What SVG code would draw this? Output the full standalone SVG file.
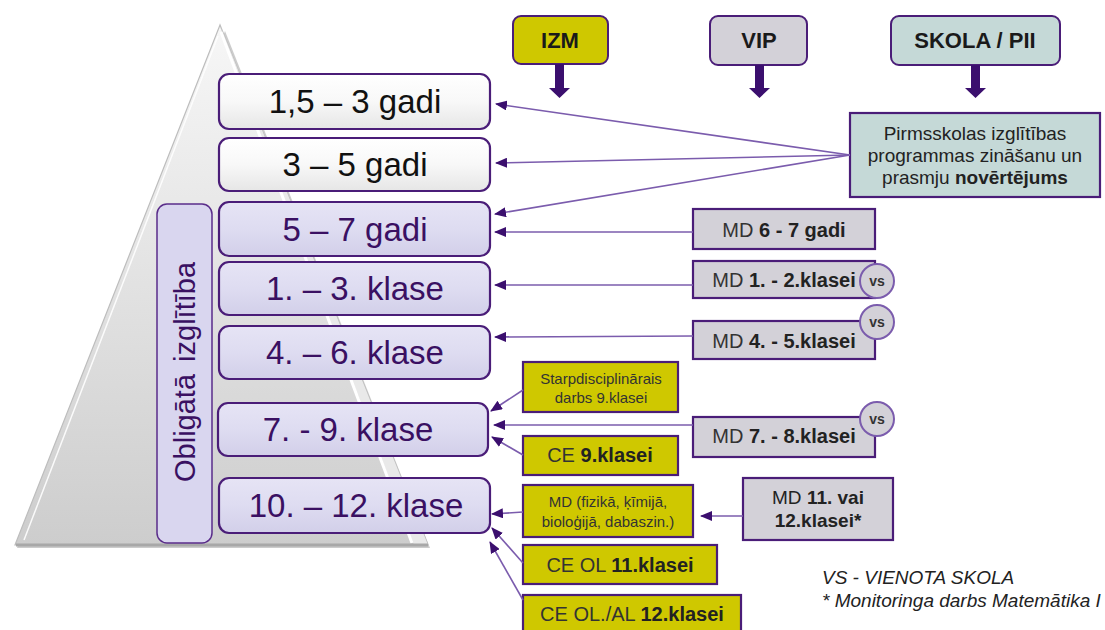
<svg xmlns="http://www.w3.org/2000/svg" width="1105" height="630" viewBox="0 0 1105 630">
  <defs>
    <linearGradient id="pyr" x1="0" y1="0" x2="0" y2="1">
      <stop offset="0" stop-color="#f7f7f7"/>
      <stop offset="1" stop-color="#cdcdcd"/>
    </linearGradient>
    <linearGradient id="white" x1="0" y1="0" x2="0" y2="1">
      <stop offset="0" stop-color="#ffffff"/>
      <stop offset="0.5" stop-color="#f8f8f8"/>
      <stop offset="1" stop-color="#e6e6e6"/>
    </linearGradient>
    <linearGradient id="lav" x1="0" y1="0" x2="0" y2="1">
      <stop offset="0" stop-color="#e6e4f5"/>
      <stop offset="0.5" stop-color="#dedcf1"/>
      <stop offset="1" stop-color="#d2cfe9"/>
    </linearGradient>
    <marker id="ah" viewBox="0 0 12 10" refX="11" refY="5" markerWidth="12" markerHeight="10" markerUnits="userSpaceOnUse" orient="auto">
      <path d="M0,0 L12,5 L0,10 Z" fill="#3b0f6e"/>
    </marker>
    <marker id="ahs" viewBox="0 0 12 10" refX="11" refY="5" markerWidth="12" markerHeight="10" markerUnits="userSpaceOnUse" orient="auto">
      <path d="M0,0 L12,5 L0,10 Z" fill="#3b0f6e"/>
    </marker>
  </defs>
  <style>
    text { font-family: "Liberation Sans", Arial, sans-serif; }
    .age { stroke: #4a1d78; stroke-width: 2.2; }
    .ageW { fill: url(#white); }
    .ageL { fill: url(#lav); }
    .tAgeB { font-size: 33px; fill: #111; text-anchor: middle; }
    .tAgeP { font-size: 33px; fill: #3a1062; text-anchor: middle; }
    .hdr { stroke: #4a1d78; stroke-width: 2; }
    .tHdr { font-size: 22px; font-weight: bold; fill: #1a1a1a; text-anchor: middle; }
    .sq { stroke: #4a1d78; stroke-width: 2.2; }
    .yel { fill: #cfc800; }
    .gry { fill: #d3d1d8; }
    .tea { fill: #c5d9d7; }
    .t20 { font-size: 20px; fill: #333; text-anchor: middle; }
    .t19 { font-size: 19px; fill: #222; text-anchor: middle; }
    .t15 { font-size: 15px; fill: #333; text-anchor: middle; }
    .b { font-weight: bold; fill: #222; }
    .conn { stroke: #7b5cad; stroke-width: 1.6; fill: none; marker-end: url(#ah); }
    .vs { fill: #d3d1d8; stroke: #7b5cad; stroke-width: 2; }
    .tvs { font-size: 14px; font-weight: bold; fill: #333; text-anchor: middle; }
    .down { fill: #3b0f6e; }
    .foot { font-size: 19px; font-style: italic; fill: #222; }
  </style>

  <!-- pyramid background -->
  <g id="pyramid">
    <polygon points="15,545 428,545 223,28" fill="#9a9a9a" opacity="0.5" transform="translate(2,3)"/>
    <polygon points="220,25 15,545 428,545" fill="url(#pyr)" stroke="#bdbdbd" stroke-width="1.2"/>
    <polygon points="220,25 428,545 414,545" fill="#e9e9e9"/>
    <line x1="221" y1="32" x2="412" y2="543" stroke="#ffffff" stroke-width="3"/>
    <line x1="218" y1="36" x2="24" y2="540" stroke="#ffffff" stroke-width="1.5" opacity="0.9"/>
    <line x1="16" y1="545" x2="428" y2="545" stroke="#a8a8a8" stroke-width="3"/>
  </g>

  <!-- Obligātā izglītība -->
  <g id="obligata">
    <rect x="157" y="204" width="55" height="339" rx="10" fill="#d9d6ef" stroke="#5a2d8a" stroke-width="1.5"/>
    <text transform="translate(195,372) rotate(-90)" font-size="29" fill="#3a1062" text-anchor="middle" word-spacing="4">Obligātā izglītība</text>
  </g>

  <!-- age boxes -->
  <g id="age1"><rect class="age ageW" x="219" y="74" width="271" height="55" rx="10"/><text class="tAgeB" x="355" y="113">1,5 – 3 gadi</text></g>
  <g id="age2"><rect class="age ageW" x="219" y="138" width="271" height="53" rx="10"/><text class="tAgeB" x="355" y="176">3 – 5 gadi</text></g>
  <g id="age3"><rect class="age ageL" x="219" y="202" width="271" height="54" rx="10"/><text class="tAgeP" x="355" y="241">5 – 7 gadi</text></g>
  <g id="age4"><rect class="age ageL" x="219" y="262" width="271" height="53" rx="10"/><text class="tAgeP" x="355" y="300">1. – 3. klase</text></g>
  <g id="age5"><rect class="age ageL" x="219" y="326" width="271" height="53" rx="10"/><text class="tAgeP" x="355" y="364">4. – 6. klase</text></g>
  <g id="age6"><rect class="age ageL" x="218" y="403" width="270" height="53" rx="10"/><text class="tAgeP" x="348" y="441">7. - 9. klase</text></g>
  <g id="age7"><rect class="age ageL" x="219" y="478" width="271" height="55" rx="10"/><text class="tAgeP" x="356" y="517">10. – 12. klase</text></g>

  <!-- header boxes -->
  <g id="izm"><rect class="hdr yel" x="513" y="16" width="95" height="48" rx="8"/><text class="tHdr" x="560" y="48">IZM</text></g>
  <g id="vip"><rect class="hdr gry" x="710" y="16" width="97" height="49" rx="8"/><text class="tHdr" x="759" y="48">VIP</text></g>
  <g id="skola"><rect class="hdr tea" x="891" y="16" width="169" height="49" rx="8"/><text class="tHdr" x="975" y="48">SKOLA / PII</text></g>

  <!-- assessment boxes -->
  <g id="pirmsskolas">
    <rect class="sq tea" x="850" y="113" width="250" height="84"/>
    <text class="t19" x="975" y="140">Pirmsskolas izglītības</text>
    <text class="t19" x="975" y="162">programmas zināšanu un</text>
    <text class="t19" x="975" y="184">prasmju <tspan class="b">novērtējums</tspan></text>
  </g>
  <g id="md67"><rect class="sq gry" x="693" y="209" width="182" height="40"/><text class="t20" x="784" y="237">MD <tspan class="b">6 - 7 gadi</tspan></text></g>
  <g id="md12"><rect class="sq gry" x="693" y="261" width="182" height="37"/><text class="t20" x="784" y="287">MD <tspan class="b">1. - 2.klasei</tspan></text>
    <circle class="vs" cx="877" cy="281" r="17"/><text class="tvs" x="877" y="286">vs</text></g>
  <g id="md45"><rect class="sq gry" x="693" y="321" width="182" height="38"/><text class="t20" x="784" y="348">MD <tspan class="b">4. - 5.klasei</tspan></text>
    <circle class="vs" cx="877" cy="322" r="17"/><text class="tvs" x="877" y="327">vs</text></g>
  <g id="starp"><rect class="sq yel" x="523" y="362" width="155" height="50"/>
    <text class="t15" x="601" y="384">Starpdisciplinārais</text><text class="t15" x="601" y="403">darbs 9.klasei</text></g>
  <g id="md78"><rect class="sq gry" x="693" y="417" width="182" height="40"/><text class="t20" x="784" y="443">MD <tspan class="b">7. - 8.klasei</tspan></text>
    <circle class="vs" cx="877" cy="419" r="17"/><text class="tvs" x="877" y="424">vs</text></g>
  <g id="ce9"><rect class="sq yel" x="523" y="436" width="155" height="39"/><text class="t20" x="600" y="462" font-size="21">CE <tspan class="b">9.klasei</tspan></text></g>
  <g id="mdfiz"><rect class="sq yel" x="523" y="485" width="170" height="52"/>
    <text class="t15" x="608" y="507">MD (fizikā, ķīmijā,</text><text class="t15" x="608" y="527">bioloģijā,  dabaszin.)</text></g>
  <g id="md1112"><rect class="sq gry" x="743" y="478" width="150" height="62"/>
    <text class="t19" x="818" y="504">MD <tspan class="b">11. vai</tspan></text><text class="t19 b" x="818" y="527">12.klasei*</text></g>
  <g id="ceol11"><rect class="sq yel" x="523" y="545" width="194" height="39"/><text class="t20" x="620" y="572">CE OL <tspan class="b">11.klasei</tspan></text></g>
  <g id="ceol12"><rect class="sq yel" x="523" y="595" width="218" height="40"/><text class="t20" x="632" y="621">CE OL./AL <tspan class="b">12.klasei</tspan></text></g>

  <!-- connectors -->
  <g id="connectors">
    <path class="down" d="M555,64 H564 V88 H570 L559.5,98 L549,88 H555 Z"/>
    <path class="down" d="M755,65 H764 V88 H770 L759.5,98 L749,88 H755 Z"/>
    <path class="down" d="M971,65 H980 V88 H986 L975.5,98 L965,88 H971 Z"/>
    <line class="conn" x1="850" y1="155" x2="496" y2="104"/>
    <line class="conn" x1="850" y1="155" x2="496" y2="163"/>
    <line class="conn" x1="850" y1="155" x2="495" y2="214"/>
    <line class="conn" x1="693" y1="232" x2="495" y2="232"/>
    <line class="conn" x1="693" y1="285" x2="495" y2="285"/>
    <line class="conn" x1="693" y1="336" x2="495" y2="337"/>
    <line class="conn" x1="523" y1="390" x2="491" y2="411"/>
    <line class="conn" x1="693" y1="425" x2="494" y2="425"/>
    <line class="conn" x1="523" y1="455" x2="492" y2="437"/>
    <line class="conn" x1="743" y1="516" x2="701" y2="516"/>
    <line class="conn" x1="523" y1="512" x2="492" y2="514"/>
    <line class="conn" x1="523" y1="563" x2="492" y2="528"/>
    <line class="conn" x1="523" y1="600" x2="490" y2="542"/>
  </g>

  <!-- legend -->
  <g id="legend">
    <text class="foot" x="822" y="584">VS - VIENOTA SKOLA</text>
    <text class="foot" x="822" y="607">* Monitoringa darbs Matemātika I</text>
  </g>
</svg>
